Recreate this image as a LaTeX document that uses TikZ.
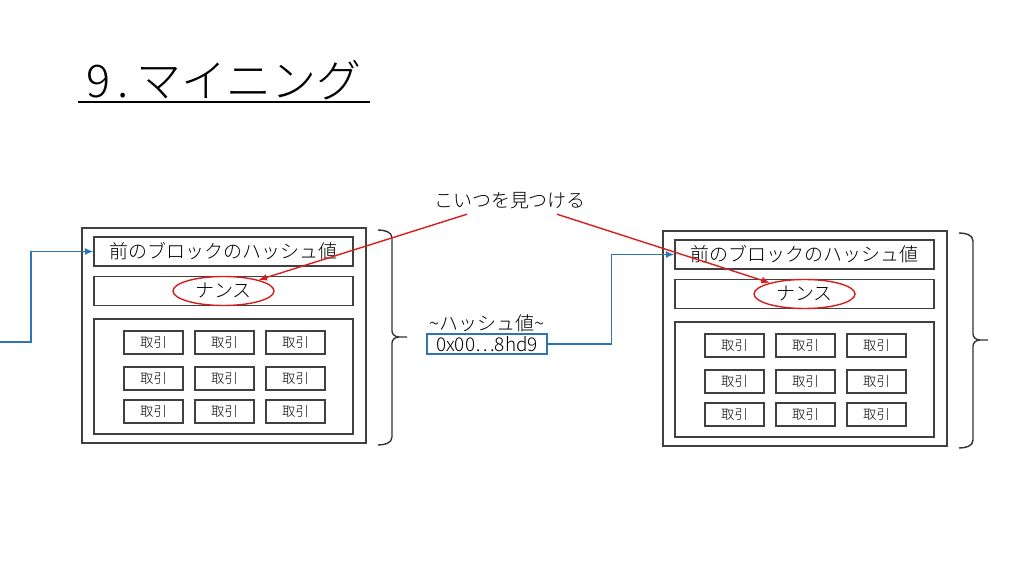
\documentclass[tikz,border=0pt]{standalone}
\usepackage{fontspec}
\setmainfont{Noto Sans CJK JP}[UprightFont=* Light]
\usetikzlibrary{shapes.geometric,arrows.meta}

\definecolor{hashblue}{RGB}{46,117,182}
\definecolor{findred}{RGB}{215,30,30}

\begin{document}
\begin{tikzpicture}[
			x = 0.025cm, y = -0.025cm,
			frame/.style = {draw=black!75, line width=1pt, inner sep=0pt},
			field/.style = {frame, minimum width=6.475cm, minimum height=0.725cm, font=\fontsize{13.5}{16}\selectfont},
			tx/.style = {frame, minimum width=1.475cm, minimum height=0.575cm, font=\fontsize{9.5}{11}\selectfont},
			nonce/.style = {ellipse, draw=findred, line width=1pt, minimum width=2.525cm, minimum height=0.725cm, inner sep=0pt, font=\fontsize{13.5}{16}\selectfont},
			link/.style = {hashblue, line width=0.9pt, -{Latex[length=6pt,width=5pt]}},
			pick/.style = {findred, line width=1pt, -{Latex[length=6pt,width=5pt]}},
			brc/.style = {draw=black!80, line width=1pt}
		]

			\useasboundingbox (0,0) rectangle (1024,576);

			\node[font=\fontsize{32}{36}\selectfont, minimum width=7.3cm, inner sep=1pt, anchor=south] (title) at (224,102) {9\,.\,マイニング};
			\draw[line width=1.3pt] (title.south west) -- (title.south east);

			% two blocks of the chain
			\foreach \b/\dx/\dy in {L/0/0, R/581/3} {
				\node[frame, minimum width=7.1cm, minimum height=5.375cm] (out\b) at (224+\dx,335.5+\dy) {};
				\node[field] (hdr\b) at (223.5+\dx,251.5+\dy) {前のブロックのハッシュ値};
				\node[field] (nbox\b) at (223.5+\dx,291+\dy) {};
				\node[nonce] (ell\b) at (223.5+\dx,291+\dy) {ナンス};
				\node[frame, minimum width=6.475cm, minimum height=2.875cm] (txs\b) at (223.5+\dx,376.5+\dy) {};
				\foreach \c/\cx in {1/153.5, 2/224.5, 3/295.5}
					\foreach \r/\ry in {1/342.5, 2/378.5, 3/411.5}
						\node[tx] (tx\b\r\c) at (\cx+\dx,\ry+\dy) {取引};
				% brace on the right
				\draw[brc] (378+\dx,230+\dy) to[out=0,in=90] (392+\dx,238+\dy) -- (392+\dx,331+\dy)
					to[out=-90,in=180] (399+\dx,337+\dy) -- (407+\dx,337+\dy);
				\draw[brc] (399+\dx,337+\dy) to[out=180,in=90] (392+\dx,343+\dy) -- (392+\dx,437+\dy)
					to[out=-90,in=0] (378+\dx,445+\dy);
			}

			\node[font=\fontsize{13.5}{16}\selectfont] (find) at (510,201) {こいつを見つける};
			\node[font=\fontsize{13.5}{16}\selectfont] (hlab) at (487,323) {\textasciitilde ハッシュ値\textasciitilde};
			\node[draw=hashblue, line width=1pt, minimum width=3cm, minimum height=0.5cm, inner sep=0pt, font=\fontsize{13.5}{16}\selectfont] (hash) at (487,344) {0x00…8hd9};

			\coordinate (inL) at (0,342);
			\draw[link] (inL) -- ++(31,0) |- (hdrL.west);
			\draw[link] (hash.east) -- ++(64,0) |- (hdrR.west);

			\draw[pick] ([xshift=-1.075cm]find.south) -- (ellL);
			\draw[pick] ([xshift=1.175cm]find.south) -- (ellR);

		\end{tikzpicture}
\end{document}
